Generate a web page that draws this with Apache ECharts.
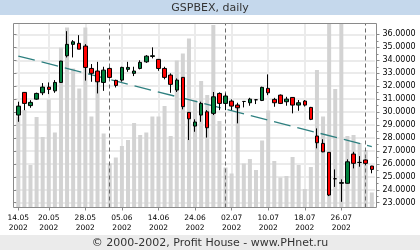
<!DOCTYPE html>
<html><head><meta charset="utf-8">
<script src="https://cdn.jsdelivr.net/npm/echarts@6/dist/echarts.min.js"></script>
<style>html,body{margin:0;padding:0;background:#fff}#c{width:420px;height:250px}</style>
</head><body><div id="c"></div>
<script>
const titleText = 'GSPBEX, daily';
const footerText = '© 2000-2002, Profit House - www.PHnet.ru';
const dates = ['14.05','15.05','16.05','17.05','18.05','20.05','21.05','22.05','23.05','24.05',
  '27.05','28.05','29.05','30.05','31.05','03.06','04.06','05.06','06.06','07.06',
  '10.06','11.06','13.06','14.06','17.06','18.06','19.06','20.06','21.06','24.06',
  '25.06','26.06','27.06','28.06','01.07','02.07','03.07','04.07','05.07','08.07',
  '09.07','10.07','11.07','12.07','15.07','16.07','17.07','18.07','19.07','22.07',
  '23.07','24.07','25.07','26.07','29.07','30.07','31.07','01.08','02.08'];
const tickLabels = ['14.05','20.05','28.05','05.06','14.06','24.06','02.07','10.07','18.07','26.07'];
const tickYear = '2002';
const monthStarts = ['03.06','01.07','01.08'];
const opens = [29.77,31.52,30.50,31.00,31.49,31.93,31.64,32.29,34.35,35.23,
  35.31,35.10,33.37,33.17,32.29,33.37,32.45,32.47,33.30,32.99,
  33.37,33.88,34.30,34.07,33.37,32.86,31.70,32.68,29.98,28.92,
  29.77,30.02,29.90,31.44,30.67,30.85,30.54,30.82,30.72,30.95,
  30.90,31.83,30.98,31.31,30.80,31.13,30.54,30.85,30.36,28.15,
  27.58,26.89,24.85,24.50,24.50,26.76,26.11,26.30,25.83];
const closes = [30.46,30.67,30.75,31.44,31.93,31.75,32.29,33.94,35.23,35.43,
  34.86,33.45,32.99,32.34,33.24,32.68,32.06,33.45,33.45,33.17,
  33.84,34.32,34.35,33.37,32.68,32.14,32.47,30.42,29.48,29.23,
  30.67,28.79,31.18,30.67,31.24,30.46,30.33,30.82,31.00,30.95,
  31.91,31.49,30.72,30.67,31.00,30.54,30.72,30.54,29.44,27.63,
  26.93,23.59,24.85,24.55,26.16,26.04,26.11,26.04,25.57];
const lows = [29.25,30.15,30.33,30.95,31.31,31.39,31.49,32.25,34.22,34.22,
  34.86,32.43,32.34,31.44,31.64,32.62,31.90,32.35,33.11,32.78,
  33.30,33.80,34.15,33.19,32.53,31.49,31.55,30.21,27.84,28.48,
  29.25,28.03,29.77,30.15,30.15,30.15,29.13,30.36,30.49,30.62,
  30.85,31.31,30.41,30.62,30.49,29.90,30.10,30.43,29.38,27.20,
  26.90,23.51,24.22,23.07,24.48,25.65,25.78,25.90,25.27];
const highs = [30.80,31.55,30.92,31.50,32.24,32.29,32.47,33.96,36.25,35.56,
  35.94,35.25,33.71,33.88,33.50,33.45,32.50,33.50,33.88,33.50,
  34.00,34.40,35.00,34.10,33.50,32.99,32.60,32.70,30.00,29.44,
  30.80,30.15,31.55,31.52,31.44,30.98,30.72,30.82,31.10,31.00,
  31.96,32.91,31.10,31.36,31.18,31.15,30.93,30.93,30.40,28.74,
  27.90,26.90,25.57,24.80,26.35,26.93,26.60,26.35,25.85];
const volumes = [910,975,425,905,705,1080,750,1600,1800,1390,
  1190,1800,910,1360,740,440,500,615,675,845,
  725,750,910,910,1015,715,1470,1540,1690,1075,
  1265,1125,1825,865,400,340,1035,440,485,375,
  670,970,465,300,315,505,425,185,405,1375,
  910,2200,1185,2300,715,725,645,575,150];
const trendEnds = [34.33, 27.33];

const candles = dates.map((d, i) => [opens[i], closes[i], lows[i], highs[i]]);
const trendData = dates.map((d, i) => i === 0 ? trendEnds[0] : (i === dates.length - 1 ? trendEnds[1] : null));
const isTick = (i, v) => tickLabels.indexOf(v) >= 0;

const gridL = 15.25, gridR = 45.15;
const chart = echarts.init(document.getElementById('c'));
chart.setOption({
  animation: false,
  backgroundColor: '#ffffff',
  graphic: [
    {type: 'rect', silent: true, z: -10, shape: {x: 0, y: 0, width: 420, height: 15}, style: {fill: '#c5d8ec'}},
    {type: 'rect', silent: true, z: -10, shape: {x: 0, y: 235, width: 420, height: 15}, style: {fill: '#ebebeb'}},
    {type: 'rect', silent: true, z: 100, shape: {x: 13.5, y: 23.5, width: 363, height: 184}, style: {fill: null, stroke: '#8a8a8a', lineWidth: 1}},
    {type: 'text', silent: true, z: 101, style: {text: titleText, x: 210, y: 8, textAlign: 'center', textVerticalAlign: 'middle', font: '11px "DejaVu Sans"', fill: '#333333'}},
    {type: 'text', silent: true, z: 101, style: {text: footerText, x: 210, y: 243, textAlign: 'center', textVerticalAlign: 'middle', font: '11px "DejaVu Sans"', fill: '#333333'}}
  ],
  grid: [
    {left: gridL, right: gridR, top: 23.5, bottom: 42.5},
    {left: gridL, right: gridR, top: 34.4, bottom: 47.3}
  ],
  xAxis: [
    {type: 'category', gridIndex: 0, data: dates, boundaryGap: true,
      axisLine: {show: false},
      axisTick: {show: true, interval: isTick, alignWithLabel: true, length: 3, lineStyle: {color: '#888888'}},
      axisLabel: {interval: isTick, formatter: v => v + '\n' + tickYear, fontFamily: 'DejaVu Sans', fontSize: 7.5, lineHeight: 10, color: '#000000', margin: 6},
      splitLine: {show: false}},
    {type: 'category', gridIndex: 1, data: dates, boundaryGap: true, show: false}
  ],
  yAxis: [
    {type: 'value', gridIndex: 0, min: 0, max: 1840, show: false, splitLine: {show: false}},
    {type: 'value', gridIndex: 1, position: 'right', min: 23, max: 36, interval: 1, offset: 1.65,
      axisLine: {show: false},
      axisTick: {show: true, length: 3, lineStyle: {color: '#888888'}},
      minorTick: {show: true, splitNumber: 2, length: 2, lineStyle: {color: '#888888'}},
      axisLabel: {formatter: v => v.toFixed(4), fontFamily: 'DejaVu Sans', fontSize: 8, color: '#000000', margin: 6},
      splitLine: {show: true, lineStyle: {color: '#ebebeb', width: 2}}},
    {type: 'value', gridIndex: 1, position: 'left', min: 23, max: 36, interval: 1, offset: 1.75,
      axisLine: {show: false},
      axisTick: {show: true, inside: true, length: 3, lineStyle: {color: '#888888'}},
      axisLabel: {show: false}, splitLine: {show: false}}
  ],
  series: [
    {type: 'line', xAxisIndex: 0, yAxisIndex: 0, data: dates.map(() => null), z: 0, silent: true, symbol: 'none',
      markLine: {silent: true, z: 0, symbol: ['none', 'none'], label: {show: false}, animation: false,
        lineStyle: {color: '#ebebeb', width: 2, type: 'solid'},
        data: tickLabels.map(t => ({xAxis: t}))}},
    {type: 'bar', xAxisIndex: 0, yAxisIndex: 0, data: volumes, barWidth: 4, z: 2, silent: true,
      itemStyle: {color: '#d3d3d3'},
      markLine: {silent: true, z: 3, symbol: ['none', 'none'], label: {show: false}, animation: false,
        lineStyle: {color: '#6a6a6a', width: 1, type: [4, 3]},
        data: monthStarts.map(m => ({xAxis: m}))}},
    {type: 'line', xAxisIndex: 1, yAxisIndex: 1, data: trendData, connectNulls: true, symbol: 'none', showSymbol: false, z: 3, silent: true,
      lineStyle: {color: '#2f8080', width: 1.3, type: [17, 7]}},
    {type: 'candlestick', xAxisIndex: 1, yAxisIndex: 1, data: candles, barWidth: 4, clip: false, z: 4, silent: true,
      itemStyle: {color: '#00803c', color0: '#ff0000', borderColor: '#000000', borderColor0: '#000000', borderColorDoji: '#000000', borderWidth: 1}}
  ]
});
</script></body></html>
